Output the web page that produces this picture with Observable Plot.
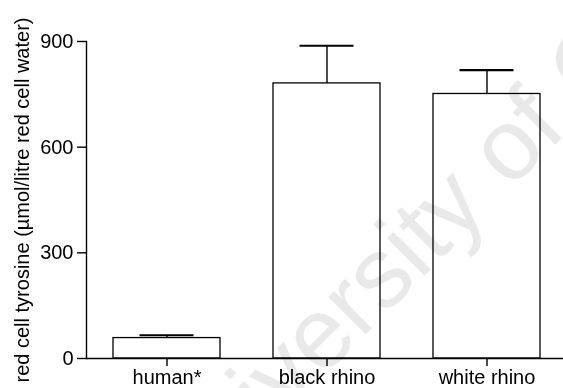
<!DOCTYPE html>
<html>
<head>
<meta charset="utf-8">
<script src="https://cdn.jsdelivr.net/npm/d3@7"></script>
<script src="https://cdn.jsdelivr.net/npm/@observablehq/plot@0.6"></script>
<style>
  html, body { margin: 0; padding: 0; background: white; }
  #wrap { position: relative; width: 563px; height: 388px; overflow: hidden; }
  #wm { position: absolute; left: 0; top: 0; pointer-events: none; mix-blend-mode: multiply; }
</style>
</head>
<body>
<div id="wrap"></div>
<script>
const categories = ["human*", "black rhino", "white rhino"];
const means = [58, 781, 751];
const upperErr = [66, 888, 819];
const yTicks = [0, 300, 600, 900];
const yLabel = "red cell tyrosine (µmol/litre red cell water)";
const watermark = "University of Cape Town";

const data = categories.map((c, i) => ({category: c, mean: means[i], upper: upperErr[i]}));

const chart = Plot.plot({
  width: 563,
  height: 388,
  marginLeft: 86,
  marginRight: 0,
  marginTop: 41,
  marginBottom: 30,
  style: {fontFamily: "'Liberation Sans', Arial, sans-serif", fontSize: "20px", color: "black", background: "white", overflow: "visible"},
  x: {domain: categories, range: [86, 566], paddingInner: 0.333, paddingOuter: 0.162, align: 0.5},
  y: {domain: [0, 900], ticks: yTicks},
  marks: [
    Plot.barY(data, {x: "category", y: "mean", fill: "white", stroke: "black", strokeWidth: 1.3}),
    Plot.ruleX(data, {x: "category", y1: "mean", y2: "upper", stroke: "black", strokeWidth: 1.4}),
    Plot.tickY(data, {x: "category", y: "upper", stroke: "black", strokeWidth: 2.2, insetLeft: 26.5, insetRight: 26.5}),
    Plot.ruleY([0], {stroke: "black", strokeWidth: 1.4}),
    Plot.frame({anchor: "left", stroke: "black", strokeWidth: 1.4}),
    Plot.axisX({tickSize: 8, tickPadding: 3, label: null, strokeWidth: 1.4}),
    Plot.axisY({ticks: yTicks, tickSize: 9, tickPadding: 4, strokeWidth: 1.4, label: null}),
    Plot.axisY({ticks: [], tickSize: 0, label: yLabel, labelAnchor: "center", labelOffset: 72,
      labelArrow: "none", fontSize: "20px"})
  ]
});
const wrap = document.getElementById("wrap");
wrap.appendChild(chart);

// faint diagonal watermark overlay
const svgNS = "http://www.w3.org/2000/svg";
const wm = document.createElementNS(svgNS, "svg");
wm.setAttribute("id", "wm");
wm.setAttribute("width", 563);
wm.setAttribute("height", 388);
const t = document.createElementNS(svgNS, "text");
t.setAttribute("transform", "translate(180,520) rotate(-45)");
t.setAttribute("font-family", "'Liberation Sans', Arial, sans-serif");
t.setAttribute("font-size", "100");
t.setAttribute("fill", "#e9e9e9");
t.textContent = watermark;
wm.appendChild(t);
wrap.appendChild(wm);
</script>
</body>
</html>
